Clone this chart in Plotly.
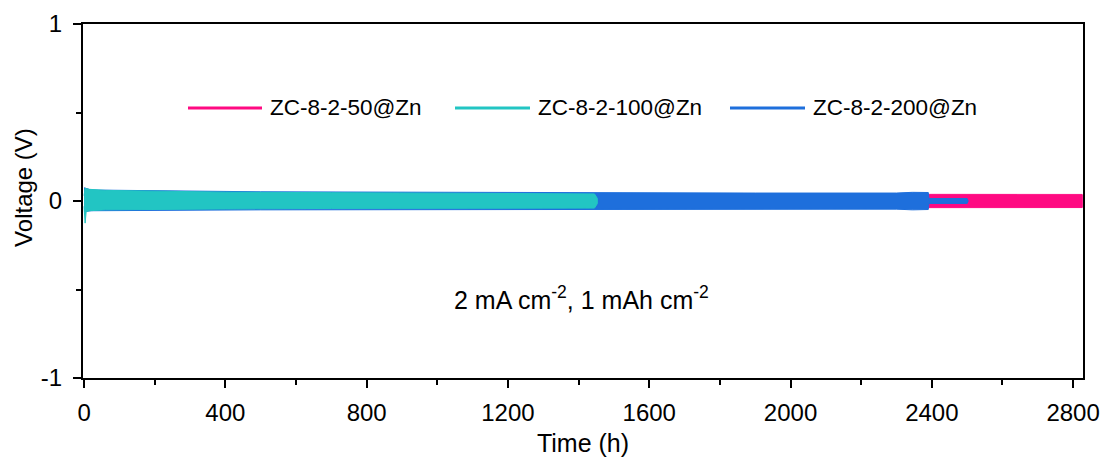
import plotly.graph_objects as go

# ---- data ----
names = ["ZC-8-2-50@Zn", "ZC-8-2-100@Zn", "ZC-8-2-200@Zn"]
colors = ["#FF0A82", "#22C5C3", "#1E6FDC"]

# envelope of the dense charge/discharge traces (upper / lower voltage bounds)
t_50 = [0, 500, 1000, 1500, 2000, 2400, 2600, 2826]
up_50 = [0.04, 0.04, 0.04, 0.04, 0.038, 0.038, 0.037, 0.037]
lo_50 = [-0.04, -0.04, -0.04, -0.04, -0.038, -0.038, -0.037, -0.037]

t_200 = [0, 20, 500, 1000, 1400, 1900, 2300, 2345, 2390, 2392, 2500, 2503]
up_200 = [0.075, 0.062, 0.052, 0.048, 0.045, 0.045, 0.045, 0.049, 0.048, 0.014, 0.014, 0.0]
lo_200 = [-0.06, -0.055, -0.05, -0.048, -0.046, -0.046, -0.046, -0.05, -0.048, -0.014, -0.014, 0.0]

t_100 = [0, 3, 6, 15, 60, 200, 400, 700, 1000, 1300, 1445, 1453]
up_100 = [0.03, 0.072, 0.07, 0.066, 0.06, 0.055, 0.05, 0.047, 0.045, 0.042, 0.04, 0.015]
lo_100 = [-0.03, -0.125, -0.06, -0.055, -0.05, -0.046, -0.045, -0.042, -0.04, -0.04, -0.04, -0.015]

x_ticks = [0, 400, 800, 1200, 1600, 2000, 2400, 2800]
y_ticks = [-1, 0, 1]
note = "2 mA cm<sup>-2</sup>, 1 mAh cm<sup>-2</sup>"
x_title = "Time (h)"
y_title = "Voltage (V)"

series = [(t_50, up_50, lo_50), (t_100, up_100, lo_100), (t_200, up_200, lo_200)]
draw_order = [0, 2, 1]  # pink bottom, blue middle, cyan top

FONT = "Arial, Liberation Sans, sans-serif"
fig = go.Figure()
for i in draw_order:
    t, up, lo = series[i]
    fig.add_trace(go.Scatter(
        x=list(t) + list(t)[::-1],
        y=list(up) + list(lo)[::-1],
        mode="lines", fill="toself", fillcolor=colors[i],
        line=dict(color=colors[i], width=1),
        name=names[i], showlegend=False, hoverinfo="skip"))

# manual legend (long line samples like the reference)
leg_y = 0.763
leg_pos = [(0.105, 0.179), (0.372, 0.447), (0.647, 0.722)]
for i, (x0, x1) in enumerate(leg_pos):
    fig.add_shape(type="line", xref="paper", yref="paper", x0=x0, x1=x1,
                  y0=leg_y, y1=leg_y, line=dict(color=colors[i], width=3))
    fig.add_annotation(xref="paper", yref="paper", x=x1 + 0.006, y=leg_y,
                       text=names[i], showarrow=False, xanchor="left", yanchor="middle",
                       font=dict(family=FONT, size=22.5, color="black"))

fig.add_annotation(xref="paper", yref="paper", x=0.498, y=0.225, text=note,
                   showarrow=False, xanchor="center", yanchor="middle",
                   font=dict(family=FONT, size=25, color="black"))

# y-axis title placed as annotation (sits slightly above axis centre in the reference)
fig.add_annotation(xref="paper", yref="paper", x=-0.059, y=0.537, text=y_title,
                   textangle=-90, showarrow=False, xanchor="center", yanchor="middle",
                   font=dict(family=FONT, size=24, color="black"))

axis_common = dict(showline=True, linecolor="black", linewidth=2, mirror=True,
                   ticks="outside", tickcolor="black", tickwidth=2, ticklen=8,
                   showgrid=False, zeroline=False, automargin=False,
                   tickfont=dict(family=FONT, size=24, color="black"))
fig.update_xaxes(range=[-3, 2828], tickvals=x_ticks, ticklabelstandoff=4,
                 title=dict(text=x_title, font=dict(family=FONT, size=25, color="black"), standoff=10),
                 minor=dict(dtick=200, tick0=0, ticks="outside", ticklen=5, tickwidth=2, tickcolor="black"),
                 **axis_common)
fig.update_yaxes(range=[-1, 1], tickvals=y_ticks, ticktext=["-1", "0", "1"], ticklabelstandoff=6,
                 minor=dict(dtick=0.5, tick0=0, ticks="outside", ticklen=5, tickwidth=2, tickcolor="black"),
                 **axis_common)
fig.update_layout(width=1107, height=461, margin=dict(l=83, r=24, t=24, b=83),
                  plot_bgcolor="white", paper_bgcolor="white", showlegend=False)
fig.write_html("out.html")
